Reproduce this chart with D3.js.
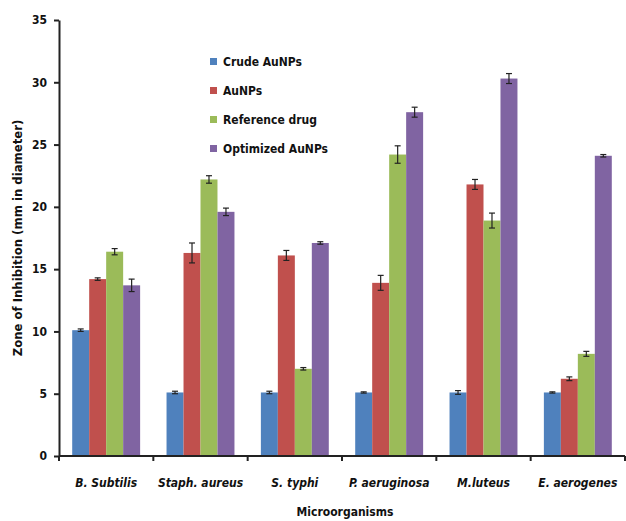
<!DOCTYPE html>
<html>
<head>
<script src="https://d3js.org/d3.v7.min.js"></script>
<style>
  body { margin: 0; background: #fff; }
  text { font-family: "Liberation Sans Narrow", "DejaVu Sans Condensed", "Liberation Sans", sans-serif; font-weight: bold; fill: #111; }
  .axis path, .axis line { stroke: #222; stroke-width: 2; }
</style>
</head>
<body>
<svg id="chart" width="626" height="521"></svg>
<script>
  const organisms = ["B. Subtilis", "Staph. aureus", "S. typhi", "P. aeruginosa", "M.luteus", "E. aerogenes"];
  const seriesNames = ["Crude AuNPs", "AuNPs", "Reference drug", "Optimized AuNPs"];
  const colors = ["#4F81BD", "#C0504D", "#9BBB59", "#8064A2"];

  const crude     = [10.1, 5.1, 5.1, 5.1, 5.1, 5.1];
  const aunps     = [14.2, 16.3, 16.1, 13.9, 21.8, 6.2];
  const refDrug   = [16.4, 22.2, 7.0, 24.2, 18.9, 8.2];
  const optimized = [13.7, 19.6, 17.1, 27.6, 30.3, 24.1];

  const crudeErr     = [0.1, 0.1, 0.1, 0.05, 0.15, 0.05];
  const aunpsErr     = [0.1, 0.8, 0.4, 0.6, 0.4, 0.15];
  const refDrugErr   = [0.25, 0.3, 0.1, 0.7, 0.6, 0.2];
  const optimizedErr = [0.5, 0.3, 0.1, 0.4, 0.4, 0.1];

  const yTicks = [0, 5, 10, 15, 20, 25, 30, 35];

  const values = [crude, aunps, refDrug, optimized];
  const errors = [crudeErr, aunpsErr, refDrugErr, optimizedErr];

  const svg = d3.select("svg#chart");
  const margin = {top: 20, right: 1, bottom: 65, left: 59};
  const chartWidth = 626 - margin.left - margin.right;
  const chartHeight = 521 - margin.top - margin.bottom;

  const chart = svg.append("g").attr("transform", `translate(${margin.left},${margin.top})`);

  const xScale = d3.scaleBand().domain(organisms).range([0, chartWidth]).paddingInner(0.28).paddingOuter(0.14);
  const subScale = d3.scaleBand().domain(seriesNames).range([0, xScale.bandwidth()]);
  const yScale = d3.scaleLinear().domain([0, 35]).range([chartHeight, 0]);

  // bars
  const data = [];
  organisms.forEach((o, i) => {
    seriesNames.forEach((s, j) => {
      data.push({org: o, series: s, idx: j, v: values[j][i], e: errors[j][i]});
    });
  });

  chart.selectAll("rect.bar").data(data).join("rect").attr("class", "bar")
    .attr("x", d => xScale(d.org) + subScale(d.series))
    .attr("width", subScale.bandwidth())
    .attr("y", d => yScale(d.v))
    .attr("height", d => chartHeight - yScale(d.v))
    .attr("fill", d => colors[d.idx]);

  // error bars
  const eb = chart.selectAll("g.err").data(data).join("g").attr("class", "err")
    .attr("transform", d => `translate(${xScale(d.org) + subScale(d.series) + subScale.bandwidth() / 2},0)`);
  eb.append("line").attr("y1", d => yScale(d.v + d.e)).attr("y2", d => yScale(d.v - d.e))
    .attr("stroke", "#222").attr("stroke-width", 1.2);
  eb.append("line").attr("x1", -3).attr("x2", 3).attr("y1", d => yScale(d.v + d.e)).attr("y2", d => yScale(d.v + d.e))
    .attr("stroke", "#222").attr("stroke-width", 1.2);
  eb.append("line").attr("x1", -3).attr("x2", 3).attr("y1", d => yScale(d.v - d.e)).attr("y2", d => yScale(d.v - d.e))
    .attr("stroke", "#222").attr("stroke-width", 1.2);

  // y axis
  const yAxis = chart.append("g").attr("class", "axis")
    .call(d3.axisLeft(yScale).tickValues(yTicks).tickSize(5).tickPadding(7).tickSizeOuter(0));
  yAxis.selectAll("text").style("font-size", "12px");

  // x axis with ticks at category boundaries
  const xAxis = chart.append("g").attr("class", "axis").attr("transform", `translate(0,${chartHeight})`);
  xAxis.append("line").attr("x1", 0).attr("x2", chartWidth).attr("y1", 0).attr("y2", 0);
  const step = xScale.step();
  const bounds = d3.range(organisms.length + 1).map(i => i * step);
  xAxis.selectAll("line.tick").data(bounds).join("line").attr("class", "tick")
    .attr("x1", d => d).attr("x2", d => d).attr("y1", 0).attr("y2", 5);
  xAxis.selectAll("text.cat").data(organisms).join("text").attr("class", "cat")
    .attr("x", d => xScale(d) + xScale.bandwidth() / 2)
    .attr("y", 31)
    .attr("text-anchor", "middle")
    .style("font-style", "italic")
    .style("font-size", "12px")
    .text(d => d);

  // axis titles
  svg.append("text")
    .attr("transform", `translate(22, ${margin.top + chartHeight / 2}) rotate(-90)`)
    .attr("text-anchor", "middle")
    .style("font-size", "13px")
    .text("Zone of Inhibition (mm in diameter)");
  svg.append("text")
    .attr("x", 345).attr("y", 516)
    .attr("text-anchor", "middle")
    .style("font-size", "12px")
    .text("Microorganisms");

  // legend
  const legend = svg.append("g").attr("transform", "translate(210,62)");
  const items = legend.selectAll("g").data(seriesNames).join("g")
    .attr("transform", (d, i) => `translate(0,${i * 29})`);
  items.append("rect").attr("x", 0).attr("y", -4).attr("width", 7).attr("height", 7)
    .attr("fill", (d, i) => colors[i]);
  items.append("text").attr("x", 13).attr("y", 4).style("font-size", "12px").text(d => d);
</script>
</body>
</html>
